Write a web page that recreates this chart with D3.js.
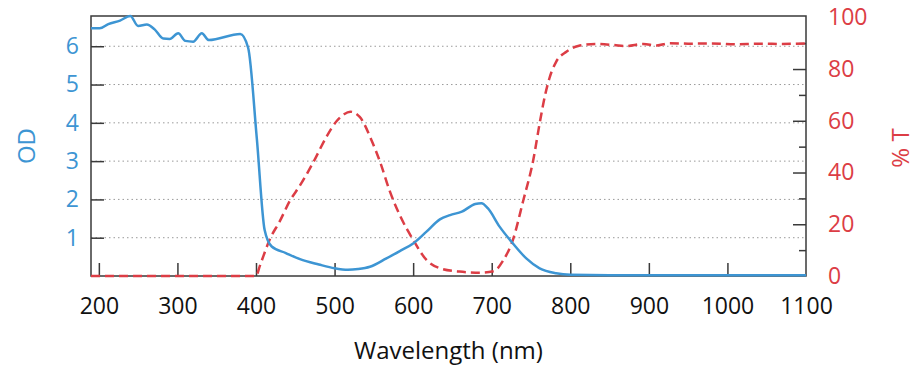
<!DOCTYPE html>
<html>
<head>
<meta charset="utf-8">
<script src="https://cdn.jsdelivr.net/npm/d3@7"></script>
<style>
  html, body { margin: 0; padding: 0; background: #fff; }
  svg text { font-family: "Open Sans", "DejaVu Sans", sans-serif; }
</style>
</head>
<body>
<svg id="chart" width="924" height="380"></svg>
<script>
// ---- data ----
const odWavelength = [190,201,212,227,240,250,261,271,282,290,301,310,320,331,340,380,390,401,411,420,438,456,480,500,517,530,545,566,583,600,617,634,647,662,679,687,695,710,727,744,761,782,800,850,900,1000,1100];
const odValues     = [6.47,6.47,6.58,6.67,6.79,6.53,6.57,6.44,6.2,6.19,6.34,6.14,6.12,6.34,6.16,6.32,5.96,3.6,1.2,0.77,0.6,0.44,0.3,0.2,0.16,0.18,0.24,0.46,0.65,0.85,1.16,1.48,1.59,1.68,1.88,1.9,1.77,1.29,0.85,0.46,0.2,0.07,0.03,0.02,0.02,0.02,0.02];

const tWavelength = [190,400,405,418,430,443,456,473,490,503,512,520,532,547,558,570,583,600,617,634,659,685,702,715,727,740,753,761,768,774,782,795,810,833,855,871,893,910,927,950,980,1010,1040,1070,1100];
const tValues     = [0,0,4,14.5,21,29,35,44,54,60,62.5,63.5,61.5,52.5,44,33,23.5,14,6.2,3,1.7,1.3,1.8,6.2,14,29,45,59,70,77,82.8,86.7,88.9,89.7,89.3,88.9,89.7,89.1,90,89.8,89.9,89.6,89.8,89.7,89.9];

const xTicks = [200,300,400,500,600,700,800,900,1000,1100];
const odTicks = [1,2,3,4,5,6];
const tMajorTicks = [0,20,40,60,80,100];
const tMinorTicks = [10,30,50,70,90];

const xLabel = "Wavelength (nm)";
const odLabel = "OD";
const tLabel = "% T";

// ---- layout ----
const W = 924, H = 380;
const m = {left: 91, top: 16, right: 118, bottom: 104};
const pw = W - m.left - m.right, ph = H - m.top - m.bottom;

const BLUE = "#3d95d3", RED = "#dc3d45", AX = "#3a3a3a";
const FS = 23, TFS = 24;

const svg = d3.select("#chart");
const g = svg.append("g").attr("transform", `translate(${m.left},${m.top})`);

const x = d3.scaleLinear().domain([190, 1100]).range([0, pw]);
const yOD = d3.scaleLinear().domain([0, 6.79]).range([ph, 0]);
const yT = d3.scaleLinear().domain([0, 100.5]).range([ph, 0]);

// gridlines
g.append("g").selectAll("line").data(odTicks).join("line")
  .attr("x1", 0).attr("x2", pw)
  .attr("y1", d => yOD(d)).attr("y2", d => yOD(d))
  .attr("stroke", "#9a9a9a").attr("stroke-width", 1)
  .attr("stroke-dasharray", "1.5,3");

// left axis
const leftAxis = d3.axisLeft(yOD).tickValues(odTicks).tickSizeInner(-13).tickSizeOuter(0).tickPadding(12).tickFormat(d3.format("d"));
const gl = g.append("g").call(leftAxis);
gl.select(".domain").remove();
gl.selectAll(".tick line").attr("stroke", AX).attr("stroke-width", 1.5);
gl.selectAll(".tick text").attr("fill", BLUE).attr("font-size", FS).attr("font-family", "Open Sans");

// right axis major
const rightAxis = d3.axisRight(yT).tickValues(tMajorTicks).tickSizeInner(-13).tickSizeOuter(0).tickPadding(22).tickFormat(d3.format("d"));
const gr = g.append("g").attr("transform", `translate(${pw},0)`).call(rightAxis);
gr.select(".domain").remove();
gr.selectAll(".tick line").attr("stroke", AX).attr("stroke-width", 1.5)
  .filter(d => d === 0 || d === 100).remove();
gr.selectAll(".tick text").attr("fill", RED).attr("font-size", FS).attr("font-family", "Open Sans");

// right minor
const rightMinor = d3.axisRight(yT).tickValues(tMinorTicks).tickSizeInner(-7).tickSizeOuter(0).tickFormat("");
const grm = g.append("g").attr("transform", `translate(${pw},0)`).call(rightMinor);
grm.select(".domain").remove();
grm.selectAll(".tick line").attr("stroke", AX).attr("stroke-width", 1.5);

// bottom axis
const bottomAxis = d3.axisBottom(x).tickValues(xTicks).tickSizeInner(-13).tickSizeOuter(0).tickPadding(22).tickFormat(d3.format("d"));
const gb = g.append("g").attr("transform", `translate(0,${ph})`).call(bottomAxis);
gb.select(".domain").remove();
gb.selectAll(".tick line").attr("stroke", AX).attr("stroke-width", 1.5)
  .filter(d => d === 1100).remove();
gb.selectAll(".tick text").attr("fill", "#111").attr("font-size", FS).attr("font-family", "Open Sans");

// frame
g.append("rect").attr("x", 0).attr("y", 0).attr("width", pw).attr("height", ph)
  .attr("fill", "none").attr("stroke", AX).attr("stroke-width", 1.5);

// curves
const tData = tWavelength.map((w, i) => [w, tValues[i]]);
const odData = odWavelength.map((w, i) => [w, odValues[i]]);

g.append("path").datum(tData)
  .attr("fill", "none").attr("stroke", RED).attr("stroke-width", 2.5)
  .attr("stroke-dasharray", "9,5")
  .attr("d", d3.line().x(d => x(d[0])).y(d => yT(d[1])).curve(d3.curveMonotoneX));

g.append("path").datum(odData)
  .attr("fill", "none").attr("stroke", BLUE).attr("stroke-width", 2.5)
  .attr("stroke-linejoin", "round")
  .attr("d", d3.line().x(d => x(d[0])).y(d => yOD(d[1])).curve(d3.curveMonotoneX));

// axis titles
svg.append("text").attr("x", m.left + pw / 2).attr("y", 359)
  .attr("text-anchor", "middle").attr("font-size", TFS).attr("fill", "#111").text(xLabel);

svg.append("text").attr("transform", `translate(35,146) rotate(-90)`)
  .attr("text-anchor", "middle").attr("font-size", TFS).attr("fill", BLUE).text(odLabel);

svg.append("text").attr("transform", `translate(909,148) rotate(-90)`)
  .attr("text-anchor", "middle").attr("font-size", TFS).attr("fill", RED).text(tLabel);
</script>
</body>
</html>
